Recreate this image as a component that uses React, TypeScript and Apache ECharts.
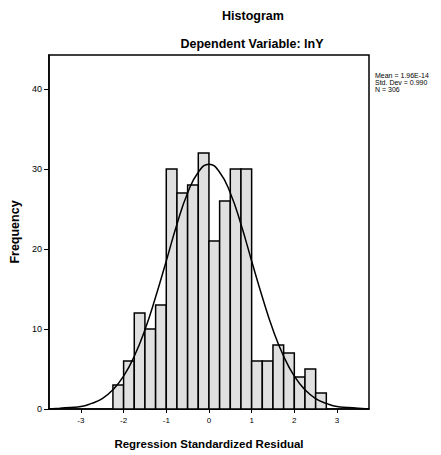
import React, { useEffect, useRef } from "react";
import * as echarts from "echarts";

// Histogram bins (lower edges), width 0.25
const binStarts = [-2.25, -2, -1.75, -1.5, -1.25, -1, -0.75, -0.5, -0.25, 0, 0.25, 0.5, 0.75, 1, 1.25, 1.5, 1.75, 2, 2.25, 2.5];
const binWidth = 0.25;
const counts = [3, 6, 12, 10, 13, 30, 27, 28, 32, 21, 26, 30, 30, 6, 6, 8, 7, 4, 5, 2];

// Normal curve
const curveX = [-3.75, -3.5, -3.25, -3, -2.75, -2.5, -2.25, -2, -1.75, -1.5, -1.25, -1, -0.75, -0.5, -0.25, 0, 0.25, 0.5, 0.75, 1, 1.25, 1.5, 1.75, 2, 2.25, 2.5, 2.75, 3, 3.25, 3.5, 3.75];
const curveY = [0.0, 0.1, 0.2, 0.3, 0.7, 1.3, 2.4, 4.1, 6.6, 9.9, 14.0, 18.5, 23.1, 27.0, 29.6, 30.6, 29.6, 27.0, 23.1, 18.5, 14.0, 9.9, 6.6, 4.1, 2.4, 1.3, 0.7, 0.3, 0.2, 0.1, 0.0];

const xTicks = [-3, -2, -1, 0, 1, 2, 3];
const statsLines = ["Mean = 1.96E-14", "Std. Dev = 0.990", "N = 306"];

const FONT = "'Liberation Sans', Arial, sans-serif";

export default function App() {
  const ref = useRef<HTMLDivElement>(null);
  useEffect(() => {
    if (!ref.current) return;
    const chart = echarts.init(ref.current, null, { renderer: "svg" });
    const barData = binStarts.map((s, i) => [s, s + binWidth, counts[i]]);
    chart.setOption({
      animation: false,
      backgroundColor: "#fff",
      textStyle: { fontFamily: FONT, color: "#000" },
      grid: { left: 48, right: 72, top: 55, bottom: 46, show: true, borderColor: "#000", borderWidth: 1.5, backgroundColor: "transparent" },
      xAxis: {
        type: "value",
        min: -3.75,
        max: 3.75,
        name: "Regression Standardized Residual",
        nameLocation: "middle",
        nameGap: 29,
        nameTextStyle: { fontSize: 11.5, fontWeight: "bold", color: "#000", fontFamily: FONT },
        axisLine: { show: true, onZero: false, lineStyle: { color: "#000", width: 1.5 } },
        axisTick: { show: true, length: 4, customValues: xTicks, lineStyle: { color: "#000" } },
        axisLabel: { customValues: xTicks, fontSize: 8, color: "#000", margin: 7, fontFamily: FONT },
        splitLine: { show: false },
      },
      yAxis: {
        type: "value",
        min: 0,
        max: 44.25,
        interval: 10,
        name: "Frequency",
        nameLocation: "middle",
        nameRotate: 90,
        nameGap: 21,
        nameTextStyle: { fontSize: 12.5, fontWeight: "bold", color: "#000", fontFamily: FONT },
        axisLine: { show: true, onZero: false, lineStyle: { color: "#000", width: 1.5 } },
        axisTick: { show: true, length: 5, lineStyle: { color: "#000" } },
        axisLabel: { fontSize: 9, color: "#000", margin: 7, fontFamily: FONT, showMaxLabel: false },
        splitLine: { show: false },
      },
      title: [
        { text: "Histogram", left: 248, top: 4, textAlign: "center", textStyle: { fontSize: 12.5, fontWeight: "bold", color: "#000", fontFamily: FONT } },
        { text: "Dependent Variable: lnY", left: 247, top: 32, textAlign: "center", textStyle: { fontSize: 12.5, fontWeight: "bold", color: "#000", fontFamily: FONT } },
      ],
      graphic: statsLines.map((t, i) => ({
        type: "text",
        left: 375,
        top: 72 + i * 7,
        style: { text: t, fontSize: 7, fill: "#000", fontFamily: FONT },
      })),
      series: [
        {
          type: "custom",
          data: barData,
          encode: { x: [0, 1], y: 2 },
          renderItem: (params: any, api: any) => {
            const x0 = api.value(0);
            const x1 = api.value(1);
            const y = api.value(2);
            const p0 = api.coord([x0, y]);
            const p1 = api.coord([x1, 0]);
            return {
              type: "rect",
              shape: { x: p0[0], y: p0[1], width: p1[0] - p0[0], height: p1[1] - p0[1] },
              style: { fill: "#e0e0e0", stroke: "#000", lineWidth: 1.5 },
            };
          },
          z: 2,
        },
        {
          type: "line",
          data: curveX.map((x, i) => [x, curveY[i]]),
          smooth: true,
          showSymbol: false,
          symbol: "none",
          lineStyle: { color: "#000", width: 1.5 },
          z: 3,
        },
      ],
    });
    return () => chart.dispose();
  }, []);
  return <div ref={ref} style={{ position: "absolute", left: 0, top: 0, width: 441, height: 455 }} />;
}
